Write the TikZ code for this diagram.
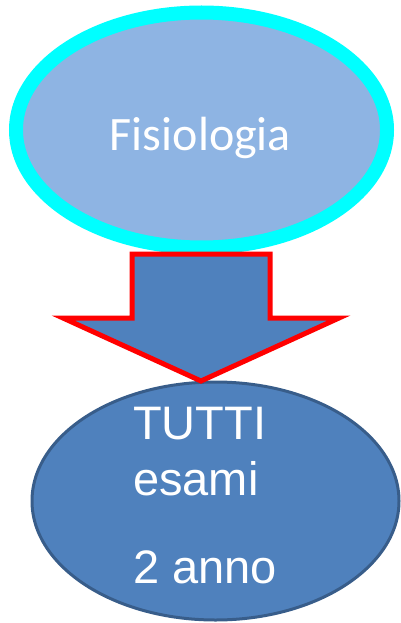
\documentclass[tikz,border=0pt]{standalone}
\usepackage{fontspec}
\usepackage{tikz}
\usetikzlibrary{shapes, positioning}
\newfontfamily\calibrifont{Carlito}
\newfontfamily\arialfont{Liberation Sans}
\definecolor{ringcyan}{HTML}{00FFFF}
\definecolor{lightblue}{HTML}{8EB4E3}
\definecolor{midblue}{HTML}{4F81BD}
\definecolor{darkblue}{HTML}{385D8A}
\tikzstyle{course} = [ellipse, draw=ringcyan, fill=lightblue, line width=14pt, inner sep=0,
                      minimum width=371pt, minimum height=235pt]
\tikzstyle{year} = [ellipse, draw=darkblue, fill=midblue, line width=3pt, inner sep=0,
                    minimum width=367pt, minimum height=238pt]
\tikzstyle{yeartext} = [anchor=base west, inner sep=0, text=white, font=\arialfont\fontsize{47}{47}\selectfont]

\begin{document}
\begin{tikzpicture}[x=1pt, y=-1pt]
					\useasboundingbox (0, 0) rectangle (401, 623);

					\node (Fisio) [course] at (201.5, 130) {};
					\node (FisioText) [anchor=base, inner sep=0, text=white,
						font=\calibrifont\fontsize{48}{48}\selectfont] at (200.5, 150) {Fisiologia};

					\node (Year) [year] at (215.5, 501) {};
					\node (Tutti) [yeartext] at (133, 439) {TUTTI};
					\node (Esami) [yeartext] at (133, 495) {esami};
					\node (Anno) [yeartext] at (133, 583) {2 anno};

					% arrow
					\coordinate (ShaftL) at (132, 254);
					\coordinate (ShaftR) at (270, 254);
					\coordinate (HeadL) at (63, 318);
					\coordinate (HeadR) at (339, 318);
					\coordinate (Tip) at (201, 381);
					\draw [draw=red, fill=midblue, line width=5pt, miter limit=20]
						(ShaftL) -- (ShaftR) -- (ShaftR |- HeadR) -- (HeadR) -- (Tip)
						-- (HeadL) -- (ShaftL |- HeadL) -- cycle;
				\end{tikzpicture}
\end{document}
